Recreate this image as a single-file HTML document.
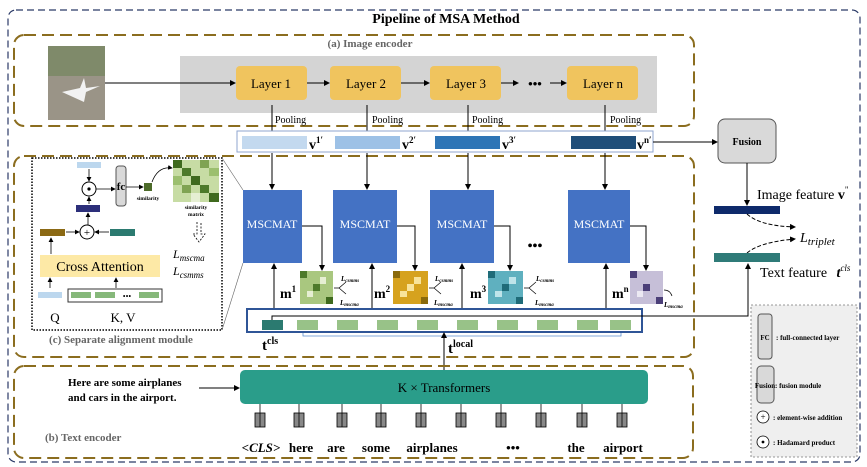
<!DOCTYPE html>
<html><head><meta charset="utf-8"><style>
html,body{margin:0;padding:0;background:#fff;}
svg{display:block;font-family:"Liberation Serif",serif;}
</style></head><body>
<svg width="867" height="467" viewBox="0 0 867 467" xmlns="http://www.w3.org/2000/svg">
<defs>
<marker id="a" markerWidth="6" markerHeight="6" refX="5" refY="3" orient="auto"><path d="M0,0 L6,3 L0,6 z" fill="#000"/></marker>
<pattern id="g1" width="8" height="8" patternUnits="userSpaceOnUse"><rect width="8" height="8" fill="#c8dca0"/></pattern>
</defs>
<rect x="8" y="10" width="852" height="452" rx="8" fill="none" stroke="#2b3a67" stroke-width="1.2" stroke-dasharray="7,4"/>
<text x="446" y="23" font-size="14" font-weight="bold" text-anchor="middle">Pipeline of MSA Method</text>

<!-- (a) -->
<rect x="14" y="35" width="680" height="91" rx="10" fill="none" stroke="#8b6d1f" stroke-width="2" stroke-dasharray="12,6"/>
<text x="370" y="47" font-size="11" font-weight="bold" fill="#666" text-anchor="middle">(a) Image encoder</text>
<rect x="48" y="46" width="57" height="74" fill="#9a9487"/>
<rect x="48" y="46" width="57" height="30" fill="#7f8a6a"/>
<path d="M62,92 l18,-4 l4,-10 l2,10 l14,-2 l-14,6 l-2,10z" fill="#f2f2f2"/>
<rect x="180" y="56" width="477" height="57" fill="#d4d4d4"/>
<g font-size="13" text-anchor="middle">
<rect x="236" y="66" width="71" height="34" rx="4" fill="#f0c45e"/><text x="271" y="88">Layer 1</text>
<rect x="330" y="66" width="71" height="34" rx="4" fill="#f0c45e"/><text x="366" y="88">Layer 2</text>
<rect x="430" y="66" width="71" height="34" rx="4" fill="#f0c45e"/><text x="466" y="88">Layer 3</text>
<rect x="567" y="66" width="71" height="34" rx="4" fill="#f0c45e"/><text x="603" y="88">Layer n</text>
<text x="535" y="88" font-weight="bold">•••</text>
</g>
<g stroke="#000" stroke-width="1" marker-end="url(#a)">
<line x1="105" y1="83" x2="235" y2="83"/><line x1="307" y1="83" x2="329" y2="83"/>
<line x1="401" y1="83" x2="429" y2="83"/><line x1="501" y1="83" x2="518" y2="83"/><line x1="550" y1="83" x2="566" y2="83"/>
<line x1="272" y1="105" x2="272" y2="136"/><line x1="367" y1="105" x2="367" y2="136"/>
<line x1="468" y1="105" x2="468" y2="136"/><line x1="605" y1="105" x2="605" y2="136"/>
</g>
<g font-size="10"><text x="275" y="123">Pooling</text><text x="372" y="123">Pooling</text><text x="472" y="123">Pooling</text><text x="610" y="123">Pooling</text></g>
<rect x="237" y="131" width="416" height="21" fill="#fff" stroke="#8fa6cf"/>
<rect x="242" y="136" width="65" height="13" fill="#c3d9ef"/>
<rect x="335" y="136" width="65" height="13" fill="#9dc1e6"/>
<rect x="435" y="136" width="65" height="13" fill="#2e75b6"/>
<rect x="571" y="136" width="65" height="13" fill="#1f4e79"/>
<g font-size="14" font-weight="bold"><text x="309" y="149">v<tspan font-size="9" dy="-6">1′</tspan></text><text x="402" y="149">v<tspan font-size="9" dy="-6">2′</tspan></text><text x="502" y="149">v<tspan font-size="9" dy="-6">3′</tspan></text><text x="637" y="149">v<tspan font-size="9" dy="-6">n′</tspan></text></g>
<line x1="653" y1="142" x2="717" y2="142" stroke="#000" marker-end="url(#a)"/>
<rect x="718" y="119" width="58" height="44" rx="7" fill="#d9d9d9" stroke="#555"/>
<text x="747" y="145" font-size="10" font-weight="bold" text-anchor="middle">Fusion</text>
<line x1="747" y1="163" x2="747" y2="205" stroke="#000" marker-end="url(#a)"/>
<text x="757" y="199" font-size="14">Image feature <tspan font-weight="bold">v</tspan><tspan font-size="9" dy="-6">"</tspan></text>
<rect x="714" y="206" width="66" height="8" fill="#0e2a6b"/>
<path d="M747,214 Q760,226 795,227" fill="none" stroke="#000" stroke-dasharray="4,2" marker-end="url(#a)"/>
<path d="M747,253 Q760,242 795,239" fill="none" stroke="#000" stroke-dasharray="4,2" marker-end="url(#a)"/>
<text x="800" y="242" font-size="14" font-style="italic">L<tspan font-size="11" dy="3">triplet</tspan></text>
<rect x="714" y="253" width="66" height="9" fill="#2f7b78"/>
<text x="760" y="277" font-size="14">Text feature <tspan font-weight="bold" font-style="italic" dx="6">t</tspan><tspan font-size="9" font-style="italic" dy="-6">cls</tspan></text>

<!-- (c) -->
<rect x="14" y="156" width="680" height="201" rx="10" fill="none" stroke="#8b6d1f" stroke-width="2" stroke-dasharray="12,6"/>
<rect x="32" y="158" width="190" height="172" fill="#fff" stroke="#000" stroke-width="1.5" stroke-dasharray="1.5,1.5"/>
<text x="121" y="343" font-size="11" font-weight="bold" fill="#666" text-anchor="middle">(c) Separate alignment module</text>
<rect x="40" y="255" width="120" height="22" fill="#fde9a6"/>
<text x="100" y="271" font-size="14" text-anchor="middle">Cross Attention</text>
<rect x="38" y="292" width="24" height="6" fill="#bcd7ee"/>
<rect x="68" y="289" width="94" height="13" fill="#fff" stroke="#333"/>
<rect x="71" y="292" width="20" height="6" fill="#86b87a"/><rect x="95" y="292" width="20" height="6" fill="#86b87a"/><rect x="139" y="292" width="20" height="6" fill="#86b87a"/>
<text x="127" y="299" font-size="8" text-anchor="middle">•••</text>
<text x="55" y="322" font-size="13" text-anchor="middle">Q</text><text x="123" y="322" font-size="13" text-anchor="middle">K, V</text>
<rect x="40" y="229" width="25" height="7" fill="#8b6914"/>
<rect x="110" y="229" width="25" height="7" fill="#2b7a70"/>
<rect x="76" y="205" width="24" height="7" fill="#2c2f7a"/>
<rect x="77" y="162" width="24" height="6" fill="#bcd7ee"/>
<circle cx="87" cy="232" r="7" fill="#fff" stroke="#000"/><text x="87" y="236" font-size="11" text-anchor="middle">+</text>
<circle cx="89" cy="189" r="7" fill="#fff" stroke="#000"/><circle cx="89" cy="189" r="1.6" fill="#000"/>
<rect x="116" y="166" width="10" height="40" rx="3" fill="#d9d9d9" stroke="#555"/>
<text x="121" y="190" font-size="11" font-weight="bold" text-anchor="middle">fc</text>
<rect x="144" y="183" width="8" height="8" fill="#4d6b2a"/>
<text x="148" y="200" font-size="5.5" font-weight="bold" text-anchor="middle">similarity</text>
<g stroke="#000" stroke-width="0.8" marker-end="url(#a)">
<line x1="50" y1="288" x2="50" y2="278"/><line x1="116" y1="288" x2="116" y2="278"/>
<line x1="51" y1="254" x2="51" y2="238"/><line x1="66" y1="232" x2="79" y2="232"/><line x1="109" y1="232" x2="95" y2="232"/>
<line x1="88" y1="225" x2="88" y2="213"/><line x1="89" y1="204" x2="89" y2="197"/><line x1="89" y1="169" x2="89" y2="181"/>
<line x1="96" y1="189" x2="115" y2="189"/><line x1="126" y1="187" x2="143" y2="187"/>
</g>
<path d="M152,182 Q158,166 172,168" fill="none" stroke="#000" stroke-width="0.8" marker-end="url(#a)"/>
<g id="mx">
<rect x="173" y="160" width="46" height="42" fill="#c7dca4"/>
<rect x="173" y="160" width="9" height="8" fill="#3f6a1e"/><rect x="182" y="168" width="9" height="8" fill="#4d7a2a"/>
<rect x="191" y="176" width="9" height="9" fill="#3f6a1e"/><rect x="200" y="185" width="9" height="8" fill="#4d7a2a"/>
<rect x="209" y="193" width="10" height="9" fill="#3f6a1e"/><rect x="200" y="160" width="9" height="8" fill="#7fa352"/>
<rect x="182" y="185" width="9" height="8" fill="#7fa352"/><rect x="209" y="168" width="10" height="8" fill="#9cbf6f"/>
<rect x="173" y="176" width="9" height="9" fill="#9cbf6f"/><rect x="191" y="193" width="9" height="9" fill="#e6efd3"/>
</g>
<text x="196" y="209" font-size="5.5" font-weight="bold" text-anchor="middle">similarity</text>
<text x="196" y="216" font-size="5.5" font-weight="bold" text-anchor="middle">matrix</text>
<path d="M197,222 v12 h-4 l6,8 l6,-8 h-4 v-12" fill="none" stroke="#000" stroke-width="0.8" stroke-dasharray="2,1.5"/>
<text x="173" y="258" font-size="12" font-style="italic">L<tspan font-size="9" dy="3">mscma</tspan></text>
<text x="173" y="275" font-size="12" font-style="italic">L<tspan font-size="9" dy="3">csmms</tspan></text>
<line x1="222" y1="158" x2="243" y2="190" stroke="#666" stroke-width="0.6"/>
<line x1="222" y1="330" x2="243" y2="263" stroke="#666" stroke-width="0.6"/>

<g font-size="12" fill="#fff" text-anchor="middle">
<rect x="243" y="190" width="59" height="73" fill="#4472c4"/><text x="272" y="228">MSCMAT</text>
<rect x="333" y="190" width="64" height="73" fill="#4472c4"/><text x="365" y="228">MSCMAT</text>
<rect x="430" y="190" width="64" height="73" fill="#4472c4"/><text x="462" y="228">MSCMAT</text>
<rect x="568" y="190" width="62" height="73" fill="#4472c4"/><text x="599" y="228">MSCMAT</text>
</g>
<text x="535" y="250" font-size="14" font-weight="bold" text-anchor="middle">•••</text>
<g stroke="#000" stroke-width="1" marker-end="url(#a)" fill="none">
<polyline points="302,226 322,226 322,270"/><polyline points="397,226 415,226 415,270"/>
<polyline points="494,226 510,226 510,270"/><polyline points="605,153 605,189"/>
<polyline points="630,226 646,226 646,270"/>
<line x1="272" y1="153" x2="272" y2="189"/><line x1="367" y1="153" x2="367" y2="189"/><line x1="468" y1="153" x2="468" y2="189"/>
<line x1="274" y1="309" x2="274" y2="264"/><line x1="372" y1="309" x2="372" y2="264"/>
<line x1="462" y1="309" x2="462" y2="264"/><line x1="606" y1="309" x2="606" y2="264"/>
</g>
<!-- m matrices -->
<rect x="300" y="271" width="33" height="33" fill="#a9c77f"/>
<rect x="300" y="271" width="7" height="7" fill="#4d7a2a"/><rect x="313" y="284" width="7" height="7" fill="#4d7a2a"/><rect x="326" y="297" width="7" height="7" fill="#3f6a1e"/><rect x="307" y="291" width="6" height="6" fill="#e6efd3"/><rect x="320" y="277" width="6" height="7" fill="#e6efd3"/>
<rect x="393" y="271" width="35" height="33" fill="#d6a21e"/>
<rect x="393" y="271" width="7" height="7" fill="#8a6a0c"/><rect x="407" y="284" width="7" height="7" fill="#f8e39a"/><rect x="421" y="297" width="7" height="7" fill="#8a6a0c"/><rect x="400" y="291" width="7" height="6" fill="#f8e39a"/><rect x="414" y="277" width="7" height="7" fill="#f8e39a"/>
<rect x="488" y="271" width="35" height="33" fill="#5fb0bf"/>
<rect x="488" y="271" width="7" height="7" fill="#1f6b78"/><rect x="502" y="284" width="7" height="7" fill="#1f6b78"/><rect x="516" y="297" width="7" height="7" fill="#1f6b78"/><rect x="495" y="291" width="7" height="6" fill="#bfe4ea"/><rect x="509" y="277" width="7" height="7" fill="#bfe4ea"/>
<rect x="630" y="271" width="33" height="33" fill="#c6bfd8"/>
<rect x="630" y="271" width="7" height="7" fill="#4b3f78"/><rect x="643" y="284" width="7" height="7" fill="#4b3f78"/><rect x="656" y="297" width="7" height="7" fill="#4b3f78"/><rect x="637" y="291" width="6" height="6" fill="#ece9f3"/>
<g font-size="14" font-weight="bold"><text x="280" y="298">m<tspan font-size="9" dy="-6">1</tspan></text><text x="374" y="298">m<tspan font-size="9" dy="-6">2</tspan></text><text x="470" y="298">m<tspan font-size="9" dy="-6">3</tspan></text><text x="612" y="298">m<tspan font-size="9" dy="-6">n</tspan></text></g>
<g font-size="7" font-style="italic" font-weight="bold">
<text x="341" y="281">L<tspan font-size="5" dy="1">csmms</tspan></text><text x="340" y="305">L<tspan font-size="5" dy="1">mscma</tspan></text>
<text x="435" y="281">L<tspan font-size="5" dy="1">csmms</tspan></text><text x="434" y="305">L<tspan font-size="5" dy="1">mscma</tspan></text>
<text x="536" y="281">L<tspan font-size="5" dy="1">csmms</tspan></text><text x="535" y="305">L<tspan font-size="5" dy="1">mscma</tspan></text>
<text x="664" y="307">L<tspan font-size="5" dy="1">mscma</tspan></text>
</g>
<g stroke="#000" stroke-width="0.7" fill="none">
<path d="M334,288 h5 l7,-6 M339,288 l7,6"/><path d="M429,288 h5 l7,-6 M434,288 l7,6"/><path d="M524,288 h5 l7,-6 M529,288 l7,6"/>
<path d="M664,290 q6,0 8,6"/>
</g>
<!-- token box -->
<rect x="247" y="309" width="395" height="23" fill="#fff" stroke="#2f5597" stroke-width="2"/>
<rect x="262" y="320" width="21" height="10" fill="#2b7a70"/>
<g fill="#98c288"><rect x="297" y="320" width="21" height="10"/><rect x="337" y="320" width="21" height="10"/><rect x="377" y="320" width="21" height="10"/><rect x="417" y="320" width="21" height="10"/><rect x="457" y="320" width="21" height="10"/><rect x="497" y="320" width="21" height="10"/><rect x="537" y="320" width="21" height="10"/><rect x="577" y="320" width="21" height="10"/><rect x="610" y="320" width="21" height="10"/></g>
<polyline points="272,320 272,316 748,316 748,264" fill="none" stroke="#000" stroke-width="1" marker-end="url(#a)"/>
<path d="M303,333 v3 h318 v-3" fill="none" stroke="#5b8fd0" stroke-width="0.8"/>
<text x="262" y="350" font-size="15" font-weight="bold">t<tspan font-size="10" dy="-6">cls</tspan></text>
<text x="448" y="353" font-size="15" font-weight="bold">t<tspan font-size="10" dy="-6">local</tspan></text>
<line x1="444" y1="370" x2="444" y2="333" stroke="#000" marker-end="url(#a)"/>

<!-- legend -->
<rect x="751" y="305" width="106" height="152" fill="#efefef" stroke="#777" stroke-width="0.8" stroke-dasharray="2,2"/>
<rect x="758" y="314" width="14" height="45" rx="3" fill="#d9d9d9" stroke="#555"/>
<text x="765" y="340" font-size="7" font-weight="bold" text-anchor="middle">FC</text>
<text x="776" y="340" font-size="7" font-weight="bold">: full-connected layer</text>
<rect x="757" y="366" width="17" height="37" rx="4" fill="#d9d9d9" stroke="#555"/>
<text x="765" y="388" font-size="7" font-weight="bold" text-anchor="middle">Fusion</text>
<text x="775" y="388" font-size="7" font-weight="bold">: fusion module</text>
<circle cx="763" cy="417" r="6" fill="#fff" stroke="#000" stroke-width="0.8"/><text x="763" y="420" font-size="9" text-anchor="middle">+</text>
<text x="773" y="420" font-size="7" font-weight="bold">: element-wise addition</text>
<circle cx="763" cy="442" r="6" fill="#fff" stroke="#000" stroke-width="0.8"/><circle cx="763" cy="442" r="1.4" fill="#000"/>
<text x="773" y="445" font-size="7" font-weight="bold">: Hadamard product</text>

<!-- (b) -->
<rect x="14" y="366" width="679" height="92" rx="10" fill="none" stroke="#8b6d1f" stroke-width="2" stroke-dasharray="12,6"/>
<rect x="240" y="370" width="408" height="34" rx="5" fill="#2a9d8a"/>
<text x="444" y="392" font-size="13" text-anchor="middle">K × Transformers</text>
<g font-size="11" font-weight="bold"><text x="68" y="386">Here are some airplanes</text><text x="68" y="401">and cars in the airport.</text></g>
<line x1="199" y1="388" x2="239" y2="388" stroke="#000" marker-end="url(#a)"/>
<text x="45" y="441" font-size="11" font-weight="bold" fill="#666">(b) Text encoder</text>
<g id="tk" stroke="#000" stroke-width="0.8">
<g transform="translate(260,0)"><line x1="0" y1="404" x2="0" y2="413"/><rect x="-5" y="413" width="10" height="14" fill="#888"/><line x1="0" y1="413" x2="0" y2="427"/></g>
<g transform="translate(299,0)"><line x1="0" y1="404" x2="0" y2="413"/><rect x="-5" y="413" width="10" height="14" fill="#888"/><line x1="0" y1="413" x2="0" y2="427"/></g>
<g transform="translate(342,0)"><line x1="0" y1="404" x2="0" y2="413"/><rect x="-5" y="413" width="10" height="14" fill="#888"/><line x1="0" y1="413" x2="0" y2="427"/></g>
<g transform="translate(381,0)"><line x1="0" y1="404" x2="0" y2="413"/><rect x="-5" y="413" width="10" height="14" fill="#888"/><line x1="0" y1="413" x2="0" y2="427"/></g>
<g transform="translate(421,0)"><line x1="0" y1="404" x2="0" y2="413"/><rect x="-5" y="413" width="10" height="14" fill="#888"/><line x1="0" y1="413" x2="0" y2="427"/></g>
<g transform="translate(461,0)"><line x1="0" y1="404" x2="0" y2="413"/><rect x="-5" y="413" width="10" height="14" fill="#888"/><line x1="0" y1="413" x2="0" y2="427"/></g>
<g transform="translate(501,0)"><line x1="0" y1="404" x2="0" y2="413"/><rect x="-5" y="413" width="10" height="14" fill="#888"/><line x1="0" y1="413" x2="0" y2="427"/></g>
<g transform="translate(541,0)"><line x1="0" y1="404" x2="0" y2="413"/><rect x="-5" y="413" width="10" height="14" fill="#888"/><line x1="0" y1="413" x2="0" y2="427"/></g>
<g transform="translate(582,0)"><line x1="0" y1="404" x2="0" y2="413"/><rect x="-5" y="413" width="10" height="14" fill="#888"/><line x1="0" y1="413" x2="0" y2="427"/></g>
<g transform="translate(622,0)"><line x1="0" y1="404" x2="0" y2="413"/><rect x="-5" y="413" width="10" height="14" fill="#888"/><line x1="0" y1="413" x2="0" y2="427"/></g>
</g>
<g font-size="13" font-weight="bold" text-anchor="middle">
<text x="261" y="452" font-style="italic">&lt;CLS&gt;</text><text x="301" y="452">here</text><text x="336" y="452">are</text><text x="376" y="452">some</text><text x="432" y="452">airplanes</text><text x="513" y="452">•••</text><text x="576" y="452">the</text><text x="623" y="452">airport</text>
</g>
</svg>
</body></html>
